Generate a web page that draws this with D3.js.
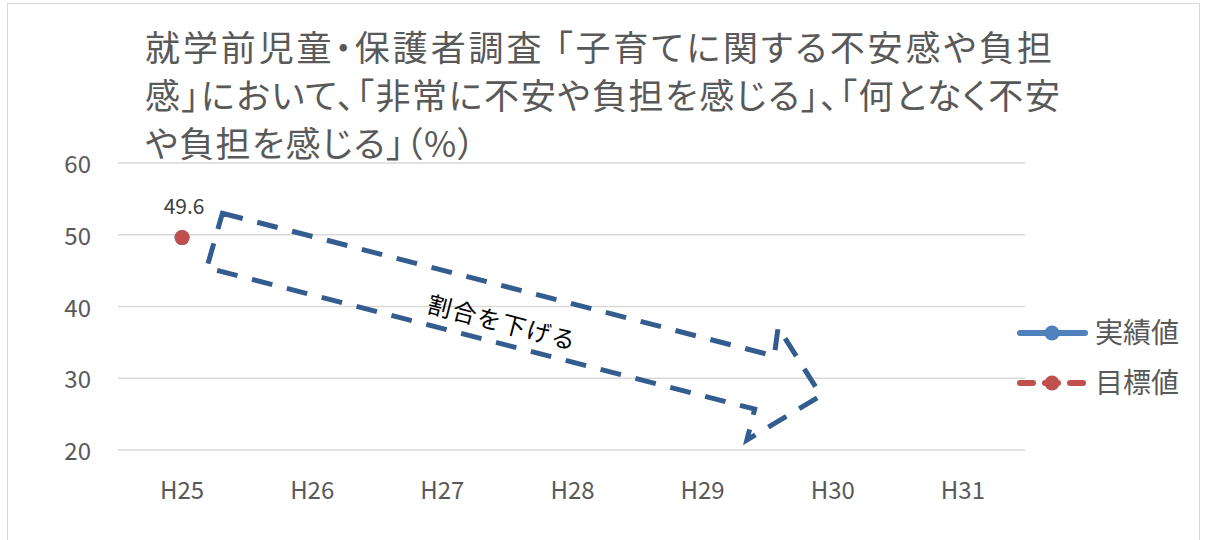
<!DOCTYPE html>
<html><head><meta charset="utf-8">
<script src="https://cdn.jsdelivr.net/npm/d3@7"></script>
<style>
body{margin:0;background:#fff;}
text{font-family:"Noto Sans CJK JP","Noto Sans",sans-serif;}
</style></head>
<body><svg id="c" width="1207" height="540"></svg>
<script>
const categories = ["H25","H26","H27","H28","H29","H30","H31"];
const actualValues = [49.6, null, null, null, null, null, null];
const targetValues = [49.6, null, null, null, null, null, null];
const yTicks = [20, 30, 40, 50, 60];
const titleLines = ["就学前児童・保護者調査 「子育てに関する不安感や負担","感」において、「非常に不安や負担を感じる」、「何となく不安","や負担を感じる」（%）"];
const seriesNames = ["実績値","目標値"];
const arrowLabel = "割合を下げる";
// annotation arrow outline in data units: [category index, value]
const arrowPoints = [[0.31,53.0],[4.55,33.1],[4.58,37.1],[4.91,27.6],[4.34,21.4],[4.40,25.7],[0.19,45.4]];

(function(){
const svg = d3.select("#c");
const pLeft = 117, pRight = 1028, pTop = 163, pBottom = 450;

svg.append("rect").attr("x",7.5).attr("y",3.5).attr("width",1192).attr("height",560)
  .attr("fill","#fff").attr("stroke","#d9d9d9").attr("stroke-width",1);

const x = d3.scaleBand().domain(categories).range([pLeft,pRight]);
const xi = d3.scaleLinear().domain([0,1]).range([x(categories[0])+x.bandwidth()/2, x(categories[1])+x.bandwidth()/2]);
const y = d3.scaleLinear().domain([20,60]).range([pBottom,pTop]);

svg.append("g").selectAll("line").data(yTicks).join("line")
  .attr("x1",118).attr("x2",1025).attr("y1",d=>y(d)).attr("y2",d=>y(d))
  .attr("stroke","#d9d9d9").attr("stroke-width",1.5);

const yAxis = d3.axisLeft(y).tickValues(yTicks).tickSize(0).tickPadding(0);
const yg = svg.append("g").attr("transform",`translate(91,0)`).call(yAxis);
yg.select(".domain").remove();
yg.selectAll("text").attr("font-size",24).attr("dy","0.4em").attr("fill","#595959").attr("font-family","'Noto Sans','Open Sans',sans-serif");

const xAxis = d3.axisBottom(x).tickSize(0).tickPadding(0);
const xg = svg.append("g").attr("transform",`translate(0,482)`).call(xAxis);
xg.select(".domain").remove();
xg.selectAll("text").attr("font-size",24).attr("fill","#595959").attr("font-family","'Noto Sans','Open Sans',sans-serif");

const titleWidths = [907, 915, 330];
svg.append("g").selectAll("text").data(titleLines).join("text")
  .attr("x",145).attr("y",(d,i)=>61+i*48)
  .attr("font-size",35).attr("fill","#595959")
  .style("font-feature-settings","'palt'")
  .attr("textLength",(d,i)=>titleWidths[i]).attr("lengthAdjust","spacing")
  .text(d=>d);

const line = d3.line().x(d=>xi(d[0])).y(d=>y(d[1])).curve(d3.curveLinearClosed);
svg.append("path").attr("d",line(arrowPoints)).attr("fill","none")
  .attr("stroke","#335d8f").attr("stroke-width",5).attr("stroke-dasharray","21,15");
const ang = Math.atan2(y(arrowPoints[1][1])-y(arrowPoints[0][1]), xi(arrowPoints[1][0])-xi(arrowPoints[0][0]))*180/Math.PI;
svg.append("text").attr("transform",`translate(${xi(2.46)},${y(37.7)}) rotate(${ang})`)
  .attr("text-anchor","middle").attr("dy","0.35em").attr("font-size",24).attr("letter-spacing",1.5)
  .attr("fill","#000").text(arrowLabel);

const cx = (d,i)=>x(categories[i])+x.bandwidth()/2;
const mk = d3.line().defined(d=>d!=null).x((d,i)=>cx(d,i)).y(d=>y(d));
svg.append("path").attr("d",mk(actualValues)).attr("fill","none").attr("stroke","#4f81bd").attr("stroke-width",6);
svg.append("g").selectAll("circle").data(actualValues.map((v,i)=>({v,i})).filter(d=>d.v!=null)).join("circle")
  .attr("cx",d=>cx(d.v,d.i)).attr("cy",d=>y(d.v)).attr("r",7.5).attr("fill","#4f81bd");
svg.append("path").attr("d",mk(targetValues)).attr("fill","none").attr("stroke","#c0504d").attr("stroke-width",6).attr("stroke-dasharray","13,12");
svg.append("g").selectAll("circle").data(targetValues.map((v,i)=>({v,i})).filter(d=>d.v!=null)).join("circle")
  .attr("cx",d=>cx(d.v,d.i)).attr("cy",d=>y(d.v)).attr("r",7.5).attr("fill","#c0504d");
svg.append("g").selectAll("text").data(targetValues.map((v,i)=>({v,i})).filter(d=>d.v!=null)).join("text")
  .attr("x",d=>cx(d.v,d.i)+2).attr("y",d=>y(d.v)-24).attr("text-anchor","middle")
  .attr("font-size",21).attr("fill","#404040").attr("font-family","'Noto Sans','Open Sans',sans-serif")
  .text(d=>d.v.toFixed(1));

const colors = ["#4f81bd","#c0504d"];
const lg = svg.append("g").selectAll("g").data(seriesNames).join("g")
  .attr("transform",(d,i)=>`translate(1017,${333+i*50})`);
lg.append("line").attr("x1",3).attr("x2",(d,i)=>i===1?66:68).attr("y1",0).attr("y2",0)
  .attr("stroke",(d,i)=>colors[i]).attr("stroke-width",6).attr("stroke-linecap","round")
  .attr("stroke-dasharray",(d,i)=>i===1?"13,12":null);
lg.append("circle").attr("cx",35).attr("cy",0).attr("r",7.5).attr("fill",(d,i)=>colors[i]);
lg.append("text").attr("x",78).attr("y",10).attr("font-size",28).attr("fill","#595959").text(d=>d);
})();
</script></body></html>
